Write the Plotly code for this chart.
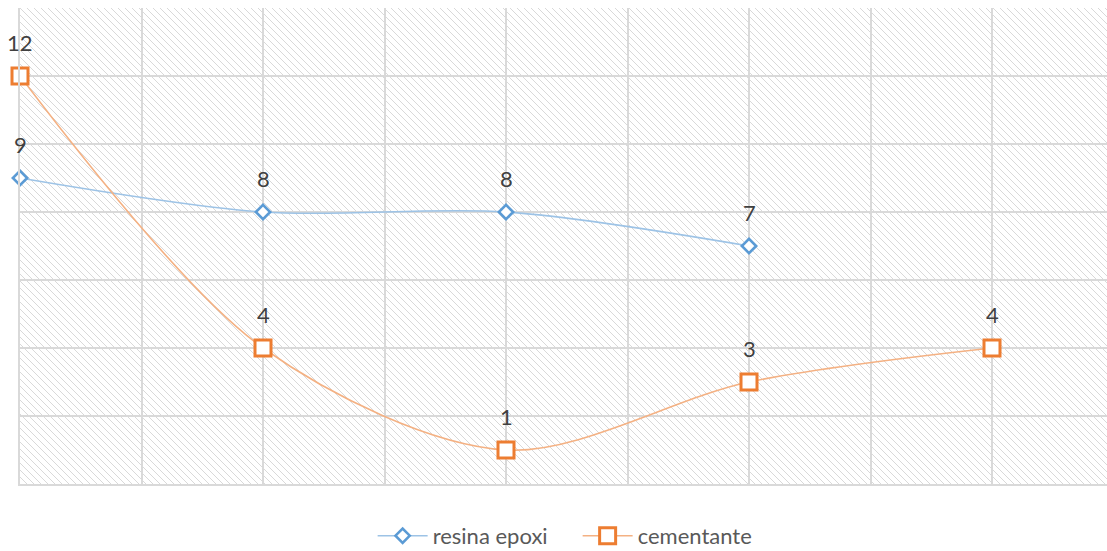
import base64
import plotly.graph_objects as go

# Measurement points (x) and the two series
points = [0, 1, 2, 3, 4]
resina_epoxi = [9, 8, 8, 7]
cementante = [12, 4, 1, 3, 4]

series_names = ["resina epoxi", "cementante"]

W, H = 1107, 551
M = dict(l=20, r=0, t=8, b=67, autoexpand=False)
plot_w = W - M["l"] - M["r"]
plot_h = H - M["t"] - M["b"]

# diagonal hatch used as the plot-area background
P = 7
tile = "".join(f'<rect x="{k}" y="{k}" width="1" height="1" fill="#d9d9d9"/>' for k in range(P))
svg = (
    f'<svg xmlns="http://www.w3.org/2000/svg" width="{plot_w}" height="{plot_h}" shape-rendering="crispEdges">'
    f'<defs><pattern id="h" width="{P}" height="{P}" patternUnits="userSpaceOnUse">'
    f'{tile}</pattern></defs>'
    f'<rect width="{plot_w}" height="{plot_h}" fill="#ffffff"/>'
    f'<rect width="{plot_w}" height="{plot_h}" fill="url(#h)"/></svg>'
)
hatch_uri = "data:image/svg+xml;base64," + base64.b64encode(svg.encode()).decode()

FONT = "Lato"

fig = go.Figure()

fig.add_trace(go.Scatter(
    x=points[:len(resina_epoxi)], y=resina_epoxi, name=series_names[0],
    mode="lines+markers", line=dict(color="#9DC3E6", width=1.6, shape="spline", smoothing=0.9),
    marker=dict(symbol="diamond", size=11, color="#ffffff", line=dict(color="#5B9BD5", width=2.6)),
    cliponaxis=False,
))
fig.add_trace(go.Scatter(
    x=points[:len(cementante)], y=cementante, name=series_names[1],
    mode="lines+markers", line=dict(color="#F4B183", width=1.6, shape="spline", smoothing=0.9),
    marker=dict(symbol="square", size=16, color="#ffffff", line=dict(color="#ED7D31", width=3)),
    cliponaxis=False,
))

# value labels above each point
annotations = []
for ys in (resina_epoxi, cementante):
    for xv, yv in zip(points, ys):
        annotations.append(dict(
            x=xv, y=yv, text=str(yv), showarrow=False, yshift=34,
            xanchor="center", yanchor="middle",
            font=dict(family=FONT, size=22, color="#404040"),
        ))

x_unit_px = 243  # pixels per x unit
fig.update_layout(
    width=W, height=H, margin=M,
    paper_bgcolor="#ffffff", plot_bgcolor="rgba(0,0,0,0)",
    showlegend=True,
    legend=dict(orientation="h", x=0.513, xanchor="center", y=-0.109, yanchor="middle",
                itemwidth=50, entrywidth=140, entrywidthmode="pixels",
                font=dict(family=FONT, size=22, color="#595959"),
                bgcolor="rgba(0,0,0,0)"),
    annotations=annotations,
    images=[dict(source=hatch_uri, xref="paper", yref="paper", x=0, y=1,
                 sizex=1, sizey=1, xanchor="left", yanchor="top",
                 sizing="stretch", layer="below")],
    xaxis=dict(range=[0, plot_w / x_unit_px], dtick=0.5, tick0=0, showgrid=True,
               gridcolor="#d9d9d9", gridwidth=1.5, zeroline=False, showticklabels=False,
               showline=True, linecolor="#d9d9d9", linewidth=1.5, ticks=""),
    yaxis=dict(range=[0, 14], dtick=2, tick0=0, showgrid=True,
               gridcolor="#d9d9d9", gridwidth=1.5, zeroline=False, showticklabels=False,
               showline=True, linecolor="#d9d9d9", linewidth=1.5, ticks=""),
)

fig.write_html("out.html")
